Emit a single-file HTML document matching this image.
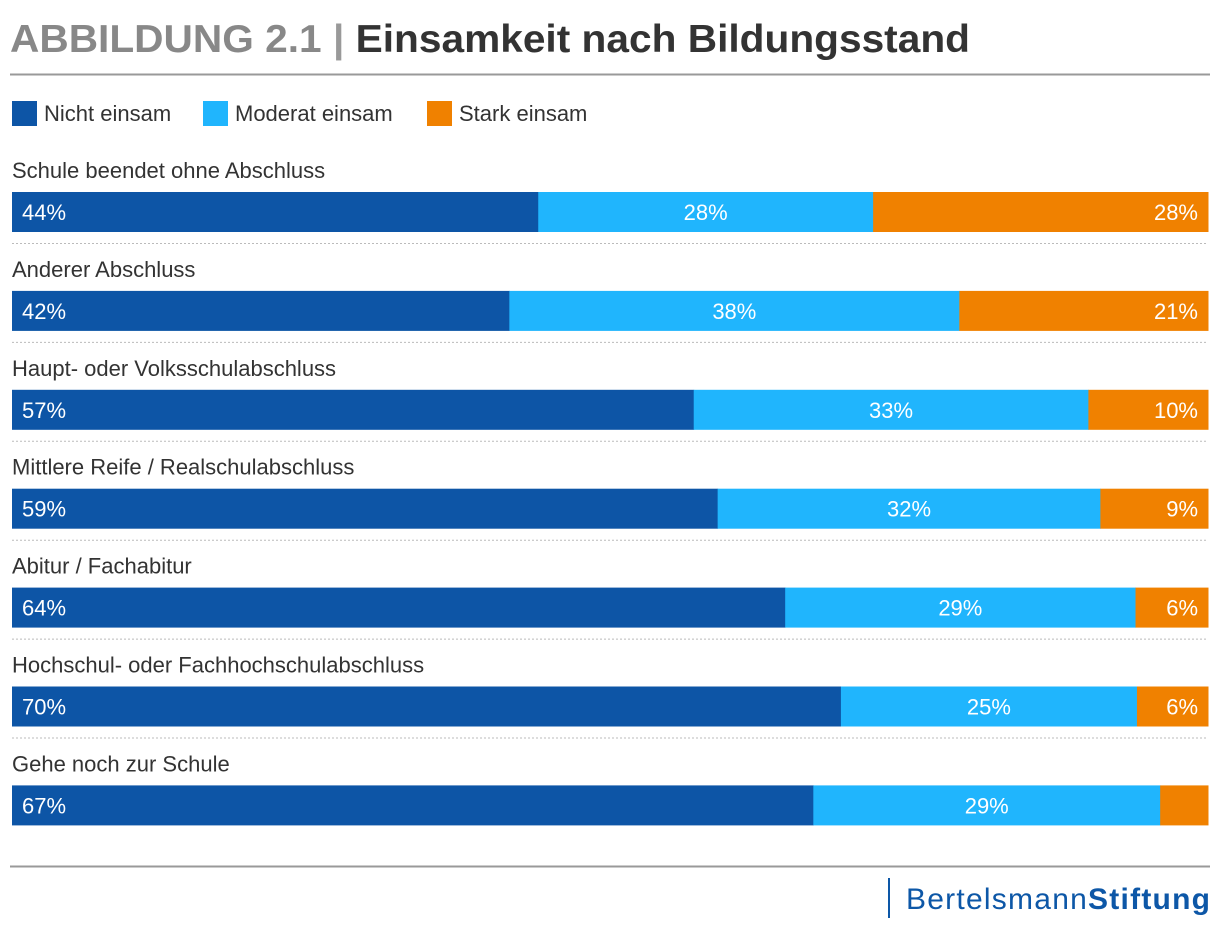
<!DOCTYPE html>
<html><head><meta charset="utf-8"><style>
body{margin:0;background:#fff;width:1220px;height:932px;overflow:hidden;font-family:"Liberation Sans",sans-serif}
</style></head><body>
<svg width="1220" height="932">
<text x="10" y="52" font-size="39" font-weight="bold" fill="#888" textLength="960" lengthAdjust="spacingAndGlyphs">ABBILDUNG 2.1 <tspan fill="#999">|</tspan> <tspan fill="#333">Einsamkeit nach Bildungsstand</tspan></text>
<line x1="10" y1="74.5" x2="1210" y2="74.5" stroke="#999" stroke-width="2"/>
<g id="legend"></g>
<g id="rows"></g>
<line x1="10" y1="866.5" x2="1210" y2="866.5" stroke="#999" stroke-width="2"/>
<line x1="889" y1="878" x2="889" y2="918" stroke="#0d57a7" stroke-width="2"/>
<text x="1210" y="909" text-anchor="end" font-size="30" fill="#0d57a7" textLength="304" lengthAdjust="spacing">Bertelsmann<tspan font-weight="bold">Stiftung</tspan></text>
</svg>
<script>
const categories=["Schule beendet ohne Abschluss","Anderer Abschluss","Haupt- oder Volksschulabschluss","Mittlere Reife / Realschulabschluss","Abitur / Fachabitur","Hochschul- oder Fachhochschulabschluss","Gehe noch zur Schule"];
const nichtEinsam=[44,42,57,59,64,70,67];
const moderatEinsam=[28,38,33,32,29,25,29];
const starkEinsam=[28,21,10,9,6,6,4];
const showLabel=[[1,1,1],[1,1,1],[1,1,1],[1,1,1],[1,1,1],[1,1,1],[1,1,0]];
const seriesNames=["Nicht einsam","Moderat einsam","Stark einsam"];
const colors=["#0d55a6","#20b5fd","#f08100"];
const NS="http://www.w3.org/2000/svg";
function mk(t,a,p){const e=document.createElementNS(NS,t);for(const k in a)e.setAttribute(k,a[k]);p.appendChild(e);return e;}
const X0=12,X1=1208;
const xs=(v,tot)=>(X1-X0)*v/tot;
const lg=document.getElementById('legend');
const lpos=[12,203,427];
seriesNames.forEach((n,i)=>{
 const lx=lpos[i];
 const r=mk('rect',{x:lx,y:101,width:25,height:25,fill:colors[i]},lg);
 
 
 const t=mk('text',{x:lx+32,y:121,'font-size':22,fill:'#333'},lg);t.textContent=n;
 
 
});
const rg=document.getElementById('rows');
categories.forEach((c,i)=>{
 const top=192+i*98.9;
 const t=mk('text',{x:12,y:top-14,'font-size':22,fill:'#333'},rg);t.textContent=c;
 
 
 const vals=[nichtEinsam[i],moderatEinsam[i],starkEinsam[i]];
 const tot=vals[0]+vals[1]+vals[2];
 let x=X0;
 vals.forEach((v,j)=>{
  const w=xs(v,tot);
  const r=mk('rect',{x:x,y:top,width:w+0.5,height:40,fill:colors[j]},rg);
  
  
  if(showLabel[i][j]){
   let tx=j==0?x+10:(j==1?x+w/2:x+w-10);
   const a=j==0?'start':(j==1?'middle':'end');
   const l=mk('text',{x:tx,y:top+28,'font-size':22,fill:'#fff','text-anchor':a},rg);l.textContent=v+'%';
   
   
  }
  x+=w;
 });
 if(i<categories.length-1){
  const ln=mk('line',{x1:12,x2:1208,y1:top+51.5,y2:top+51.5,stroke:'#bbb','stroke-dasharray':'2,2'},rg);
  
  
 }
});
</script>
</body></html>
